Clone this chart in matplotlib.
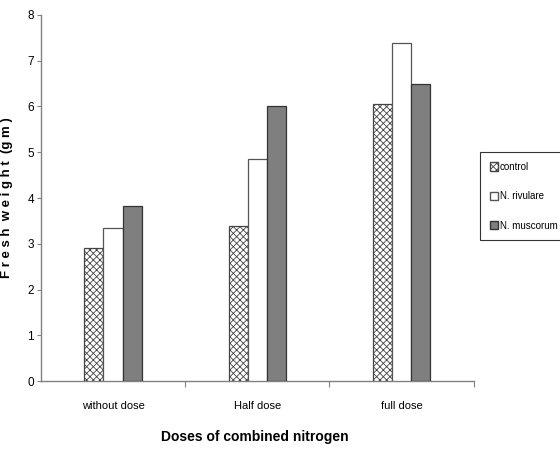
import numpy as np
import matplotlib
matplotlib.use("Agg")
import matplotlib.pyplot as plt
import matplotlib.patches as mpatches

plt.rcParams["font.family"] = ["Liberation Sans", "DejaVu Sans"]
plt.rcParams["hatch.linewidth"] = 0.6

doses = ["without dose", "Half dose", "full dose"]
series = ["control", "N. rivulare", "N. muscorum"]
control = [2.90, 3.39, 6.05]
rivulare = [3.34, 4.86, 7.39]
muscorum = [3.83, 6.00, 6.50]

STYLE = {
    "control":     dict(facecolor="white", edgecolor="#444444", hatch="xxxxx"),
    "N. rivulare": dict(facecolor="white", edgecolor="#555555", hatch=None),
    "N. muscorum": dict(facecolor="#7f7f7f", edgecolor="#333333", hatch=None),
}

fig = plt.figure(figsize=(5.6, 4.5), dpi=100)
ax = fig.add_axes([0.073, 0.153, 0.773, 0.814])

x = np.arange(len(doses))
w = 0.133
for i, (name, vals) in enumerate(zip(series, [control, rivulare, muscorum])):
    st = STYLE[name]
    ax.bar(x + (i - 1) * w, vals, width=w, facecolor=st["facecolor"],
           edgecolor=st["edgecolor"], hatch=st["hatch"], linewidth=0.9,
           zorder=3)

ax.set_xlim(-0.5, len(doses) - 0.5)
ax.set_ylim(0, 8)
ax.set_yticks(range(0, 9))
ax.tick_params(axis="y", labelsize=8.5, length=3, color="#808080", pad=2)

# category separators as ticks, labels centred below each group
ax.set_xticks([0.5, 1.5, 2.5])
ax.set_xticklabels([])
ax.tick_params(axis="x", length=4, color="#808080", direction="out")
for xi, lab in zip(x, doses):
    ax.text(xi, -0.55, lab, ha="center", va="center", fontsize=8,
            transform=ax.transData)

for s in ["top", "right"]:
    ax.spines[s].set_visible(False)
for s in ["left", "bottom"]:
    ax.spines[s].set_color("#808080")
    ax.spines[s].set_linewidth(1.0)

ax.set_ylabel("F r e s h  w e i g h t  (g m )", fontsize=9.5,
              fontweight="bold", labelpad=10)
fig.text(0.455, 0.03, "Doses of combined nitrogen", ha="center",
         va="center", fontsize=10, fontweight="bold")

handles = [mpatches.Patch(label=n, **{k: v for k, v in STYLE[n].items()})
           for n in series]
leg = fig.legend(handles=handles, loc="upper left",
                 bbox_to_anchor=(0.858, 0.662), fontsize=7, frameon=True,
                 fancybox=False, edgecolor="black", handlelength=0.8,
                 handleheight=0.9, handletextpad=0.2, labelspacing=2.0,
                 borderpad=1.0, borderaxespad=0)
leg.get_frame().set_linewidth(0.8)

fig.savefig("out.png", dpi=100)
